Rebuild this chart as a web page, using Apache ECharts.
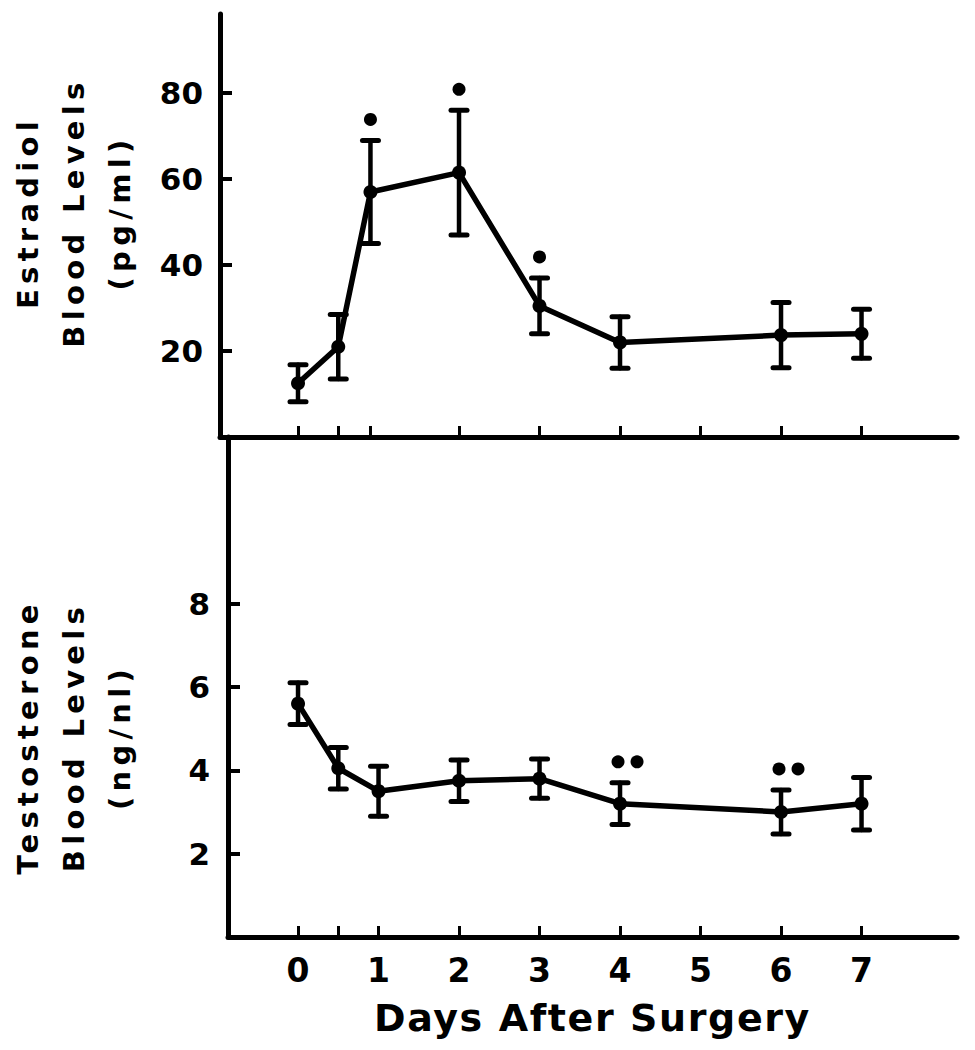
<!DOCTYPE html>
<html><head><meta charset="utf-8">
<script src="https://cdn.jsdelivr.net/npm/echarts@6/dist/echarts.min.js"></script>
<style>
html,body{margin:0;padding:0;background:#fff;}
#chart{width:975px;height:1050px;}
#chart text[style*="29px"]{letter-spacing:5.3px;}
#chart text[style*="38px"]{letter-spacing:1.6px;}
</style></head><body><div id="chart"></div>
<script>
// Estradiol (top panel)
const estDays = [0, 0.5, 0.9, 2, 3, 4, 6, 7];
const estMean = [12.5, 21, 57, 61.5, 30.5, 22, 23.7, 24];
const estErr  = [4.3, 7.5, 12, 14.5, 6.5, 6, 7.6, 5.7];
const estSig  = [0, 0, 1, 1, 1, 0, 0, 0];
// Testosterone (bottom panel)
const testDays = [0, 0.5, 1, 2, 3, 4, 6, 7];
const testMean = [5.6, 4.05, 3.5, 3.75, 3.8, 3.2, 3.0, 3.2];
const testErr  = [0.5, 0.5, 0.6, 0.5, 0.47, 0.5, 0.53, 0.63];
const testSig  = [0, 0, 0, 0, 0, 2, 2, 0];
// Axis ticks / labels
const estYTicks = [20, 40, 60, 80];
const testYTicks = [2, 4, 6, 8];
const estXTicks = [0, 0.5, 0.9, 2, 3, 4, 5, 6, 7];
const testXTicks = [0, 0.5, 1, 2, 3, 4, 5, 6, 7];
const dayLabels = [0, 1, 2, 3, 4, 5, 6, 7];
const estTitle = 'Estradiol\nBlood Levels\n(pg/ml)';
const testTitle = 'Testosterone\nBlood Levels\n(ng/nl)';
const xTitle = 'Days After Surgery';

const BLACK = '#000';
const FONT = 'DejaVu Sans';

function errRender(params, api) {
  const x = api.value(0), m = api.value(1), e = api.value(2), s = api.value(3);
  const top = api.coord([x, m + e]);
  const bot = api.coord([x, m - e]);
  const cap = 8;
  const st = {stroke: BLACK, lineWidth: 4.5, lineCap: 'round'};
  const cs = {stroke: BLACK, lineWidth: 5, lineCap: 'round'};
  const children = [
    {type: 'line', shape: {x1: top[0], y1: top[1], x2: bot[0], y2: bot[1]}, style: st},
    {type: 'line', shape: {x1: top[0] - cap, y1: top[1], x2: top[0] + cap, y2: top[1]}, style: cs},
    {type: 'line', shape: {x1: bot[0] - cap, y1: bot[1], x2: bot[0] + cap, y2: bot[1]}, style: cs}
  ];
  for (let k = 0; k < s; k++) {
    const dx = s === 1 ? 0 : (k * 19 - 2);
    children.push({type: 'circle', shape: {cx: top[0] + dx, cy: top[1] - 21, r: 6.5}, style: {fill: BLACK}});
  }
  return {type: 'group', children};
}

function xAxisCfg(gi, min, ticks, labels) {
  return {
    type: 'value', gridIndex: gi, min: min, max: 8.186,
    axisLine: {show: true, onZero: false, lineStyle: {color: BLACK, width: 5}},
    axisTick: {show: true, inside: true, length: 11, customValues: ticks, lineStyle: {color: BLACK, width: 3}},
    axisLabel: labels ? {show: true, customValues: labels, fontFamily: FONT, fontWeight: 'bold', fontSize: 33, color: BLACK, margin: 17} : {show: false},
    splitLine: {show: false}
  };
}
function yAxisCfg(gi, max, ticks, fs, margin) {
  return {
    type: 'value', gridIndex: gi, min: 0, max: max,
    axisLine: {show: true, onZero: false, lineStyle: {color: BLACK, width: 5}},
    axisTick: {show: true, inside: true, length: 12, customValues: ticks, lineStyle: {color: BLACK, width: 4}},
    axisLabel: {show: true, customValues: ticks, fontFamily: FONT, fontWeight: 'bold', fontSize: fs, color: BLACK, margin: margin},
    splitLine: {show: false}
  };
}

const chart = echarts.init(document.getElementById('chart'), null, {renderer: 'svg'});
const xTop = xAxisCfg(0, -0.969, estXTicks, null);
const xBot = xAxisCfg(1, -0.870, testXTicks, dayLabels);
xBot.name = xTitle;
xBot.nameLocation = 'middle';
xBot.nameGap = 62;
xBot.nameTextStyle = {fontFamily: FONT, fontWeight: 'bold', fontSize: 38, color: BLACK};
const yTop = yAxisCfg(0, 98.4, estYTicks, 31, 17);
Object.assign(yTop, {name: estTitle, nameLocation: 'middle', nameRotate: 90, nameGap: 77,
  nameTextStyle: {fontFamily: FONT, fontWeight: 'bold', fontSize: 29, lineHeight: 46, color: BLACK, padding: [0, 0, 0, 26]}});
const yBot = yAxisCfg(1, 12, testYTicks, 31, 18);
Object.assign(yBot, {name: testTitle, nameLocation: 'middle', nameRotate: 90, nameGap: 85,
  nameTextStyle: {fontFamily: FONT, fontWeight: 'bold', fontSize: 29, lineHeight: 46, color: BLACK, padding: [0, 100, 0, 0]}});

chart.setOption({
  animation: false,
  backgroundColor: '#fff',
  grid: [
    {left: 220, top: 14, width: 737, height: 423, outerBoundsMode: 'none', containLabel: false},
    {left: 228, top: 437, width: 729, height: 500, outerBoundsMode: 'none', containLabel: false}
  ],
  xAxis: [xTop, xBot],
  yAxis: [yTop, yBot],
  series: [
    {type: 'line', xAxisIndex: 0, yAxisIndex: 0, data: estDays.map((d, i) => [d, estMean[i]]),
     symbol: 'circle', symbolSize: 14, lineStyle: {color: BLACK, width: 5.5}, itemStyle: {color: BLACK}},
    {type: 'custom', xAxisIndex: 0, yAxisIndex: 0, renderItem: errRender, encode: {x: 0, y: 1},
     data: estDays.map((d, i) => [d, estMean[i], estErr[i], estSig[i]])},
    {type: 'line', xAxisIndex: 1, yAxisIndex: 1, data: testDays.map((d, i) => [d, testMean[i]]),
     symbol: 'circle', symbolSize: 14, lineStyle: {color: BLACK, width: 5.5}, itemStyle: {color: BLACK}},
    {type: 'custom', xAxisIndex: 1, yAxisIndex: 1, renderItem: errRender, encode: {x: 0, y: 1},
     data: testDays.map((d, i) => [d, testMean[i], testErr[i], testSig[i]])}
  ]
});
</script></body></html>
